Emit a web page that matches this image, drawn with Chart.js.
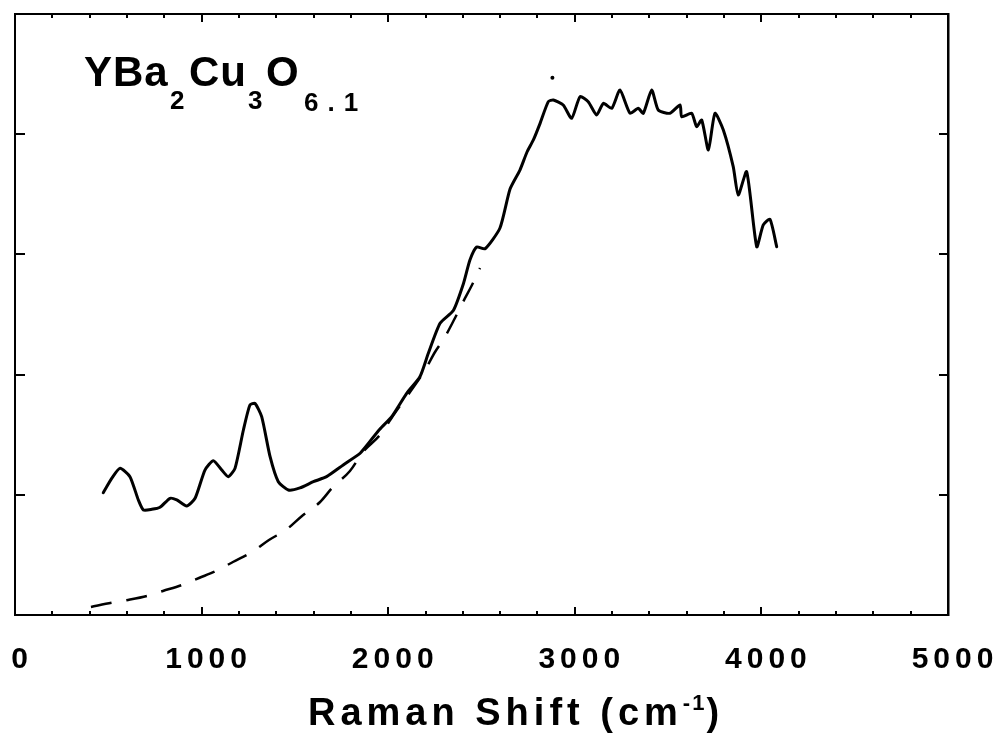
<!DOCTYPE html>
<html>
<head>
<meta charset="utf-8">
<script src="https://cdn.jsdelivr.net/npm/chart.js@4.4.1/dist/chart.umd.min.js"></script>
<style>
  html, body { margin: 0; padding: 0; background: #fff; }
  #wrap { position: relative; width: 1006px; height: 747px; }
  .txt { position: absolute; font-family: 'Liberation Sans', Arial, sans-serif; font-weight: bold; color: #000; white-space: nowrap; }
  .main { font-size: 42px; line-height: 42px; letter-spacing: 1px; top: 51px; }
  .sub { font-size: 26px; line-height: 26px; top: 87px; }
  .sub.last { top: 89px; letter-spacing: 9px; }
  #xtitle { left: 308px; top: 693px; font-size: 38px; line-height: 38px; letter-spacing: 5px; }
  #xtitle sup { font-size: 22px; vertical-align: 0; position: relative; top: -15px; letter-spacing: 2px; }
</style>
</head>
<body>
<div id="wrap">
  <canvas id="c" width="1006" height="747"></canvas>
  <div id="formula">
    <span class="txt main" style="left:84px">YBa</span><span class="txt sub" style="left:170px">2</span><span class="txt main" style="left:189px">Cu</span><span class="txt sub" style="left:248px">3</span><span class="txt main" style="left:266px">O</span><span class="txt sub last" style="left:304px">6.1</span>
  </div>
  <div id="xtitle" class="txt">Raman Shift (cm<sup>-1</sup>)</div>
</div>
<script>
// ---- data ----
const ramanShift = [473, 520, 563, 616, 661, 688, 733, 777, 831, 867, 920, 965, 1018, 1063, 1108, 1143, 1179, 1224, 1259, 1286, 1322, 1367, 1411, 1465, 1527, 1599, 1670, 1759, 1849, 1865, 1956, 2019, 2099, 2170, 2215, 2278, 2349, 2403, 2438, 2474, 2519, 2599, 2653, 2706, 2744, 2778, 2814, 2858, 2885, 2938, 2983, 3028, 3072, 3117, 3153, 3198, 3242, 3296, 3340, 3367, 3412, 3447, 3510, 3564, 3573, 3626, 3653, 3680, 3716, 3751, 3796, 3849, 3876, 3921, 3975, 4010, 4046, 4082];
const intensity = [1.017, 1.140, 1.220, 1.151, 0.957, 0.874, 0.879, 0.896, 0.971, 0.957, 0.907, 0.971, 1.206, 1.284, 1.206, 1.151, 1.220, 1.539, 1.747, 1.761, 1.650, 1.317, 1.109, 1.040, 1.057, 1.109, 1.151, 1.248, 1.345, 1.373, 1.547, 1.650, 1.844, 1.982, 2.177, 2.427, 2.533, 2.756, 2.953, 3.061, 3.047, 3.220, 3.544, 3.702, 3.852, 3.952, 4.090, 4.271, 4.285, 4.243, 4.132, 4.312, 4.270, 4.160, 4.257, 4.215, 4.368, 4.174, 4.215, 4.174, 4.368, 4.201, 4.174, 4.243, 4.145, 4.174, 4.063, 4.118, 3.869, 4.174, 4.035, 3.730, 3.494, 3.688, 3.064, 3.245, 3.292, 3.064];
const backgroundShift = [407, 518, 606, 707, 793, 895, 986, 1077, 1168, 1270, 1361, 1458, 1538, 1635, 1704, 1795, 1865, 1956, 2036, 2117, 2197, 2251, 2304, 2358, 2401, 2449, 2492];
const backgroundIntensity = [0.067, 0.102, 0.125, 0.158, 0.200, 0.250, 0.308, 0.366, 0.441, 0.524, 0.624, 0.715, 0.824, 0.940, 1.065, 1.198, 1.356, 1.498, 1.681, 1.855, 2.038, 2.188, 2.313, 2.471, 2.604, 2.745, 2.887];
const speckShift = [2880];
const speckIntensity = [4.47];
const xTickValues = [0, 1000, 2000, 3000, 4000, 5000];
const xTickLabels = ['0', '1000', '2000', '3000', '4000', '5000'];
const xMinorTickValues = [200, 400, 600, 800, 1200, 1400, 1600, 1800, 2200, 2400, 2600, 2800, 3200, 3400, 3600, 3800, 4200, 4400, 4600, 4800];
const yTickValues = [1, 2, 3, 4];

const FONT = "'Liberation Sans', Arial, sans-serif";

const spectrum = ramanShift.map((x, i) => ({ x, y: intensity[i] }));
const background = backgroundShift.map((x, i) => ({ x, y: backgroundIntensity[i] }));
const speck = speckShift.map((x, i) => ({ x, y: speckIntensity[i] }));

const letterSpacing = {
  id: 'letterSpacing',
  beforeDraw(chart) { chart.ctx.letterSpacing = '5px'; },
  beforeDatasetsDraw(chart) { chart.ctx.letterSpacing = '0px'; }
};

const innerTicks = {
  id: 'innerTicks',
  afterDatasetsDraw(chart) {
    const { ctx, chartArea: a, scales } = chart;
    const x = scales.x, y = scales.y;
    ctx.save();
    ctx.strokeStyle = '#000';
    ctx.lineWidth = 2;
    ctx.beginPath();
    const drawX = (v, len) => {
      const px = Math.round(x.getPixelForValue(v));
      ctx.moveTo(px, a.bottom); ctx.lineTo(px, a.bottom - len);
      ctx.moveTo(px, a.top); ctx.lineTo(px, a.top + len);
    };
    xTickValues.forEach(v => drawX(v, 8));
    xMinorTickValues.forEach(v => drawX(v, 4));
    yTickValues.forEach(v => {
      const py = Math.round(y.getPixelForValue(v));
      ctx.moveTo(a.left, py); ctx.lineTo(a.left + 10, py);
      ctx.moveTo(a.right, py); ctx.lineTo(a.right - 9, py);
    });
    ctx.stroke();
    ctx.restore();
  }
};

new Chart(document.getElementById('c'), {
  type: 'line',
  data: {
    datasets: [
      {
        label: 'YBa2Cu3O6.1 spectrum',
        data: spectrum,
        borderColor: '#000',
        borderWidth: 3,
        pointRadius: 0,
        tension: 0.2,
        borderJoinStyle: 'round',
        borderCapStyle: 'round',
        fill: false
      },
      {
        label: 'background',
        data: background,
        borderColor: '#000',
        borderWidth: 2.5,
        borderDash: [21, 15],
        pointRadius: 0,
        cubicInterpolationMode: 'monotone',
        fill: false
      },
      {
        label: 'speck',
        type: 'scatter',
        data: speck,
        pointRadius: 2,
        pointBackgroundColor: '#000',
        pointBorderWidth: 0,
        showLine: false
      }
    ]
  },
  options: {
    responsive: false,
    animation: false,
    devicePixelRatio: 1,
    layout: { padding: { left: 15, right: 58, top: 14, bottom: 0 } },
    plugins: { legend: { display: false }, tooltip: { enabled: false } },
    scales: {
      x: {
        type: 'linear', position: 'bottom', min: 0, max: 5000,
        afterBuildTicks: (s) => { s.ticks = xTickValues.map(v => ({ value: v })); },
        ticks: {
          autoSkip: false, maxRotation: 0, color: '#000', padding: 27, labelOffset: 7,
          font: { family: FONT, size: 30, weight: 'bold' },
          callback: (v) => xTickLabels[xTickValues.indexOf(v)]
        },
        grid: { display: false, drawTicks: false },
        border: { display: true, color: '#000', width: 2 },
        afterFit: (s) => { s.height = 132; s.paddingLeft = 0; s.paddingRight = 0; }
      },
      x2: {
        type: 'linear', position: 'top', min: 0, max: 5000,
        ticks: { display: false },
        grid: { display: false, drawTicks: false },
        border: { display: true, color: '#000', width: 2 },
        afterFit: (s) => { s.height = 0; }
      },
      y: {
        type: 'linear', position: 'left', min: 0, max: 5,
        ticks: { display: false },
        grid: { display: false, drawTicks: false },
        border: { display: true, color: '#000', width: 2 },
        afterFit: (s) => { s.width = 0; }
      },
      y2: {
        type: 'linear', position: 'right', min: 0, max: 5,
        ticks: { display: false },
        grid: { display: false, drawTicks: false },
        border: { display: true, color: '#000', width: 2.5 },
        afterFit: (s) => { s.width = 0; }
      }
    }
  },
  plugins: [letterSpacing, innerTicks]
});
</script>
</body>
</html>
